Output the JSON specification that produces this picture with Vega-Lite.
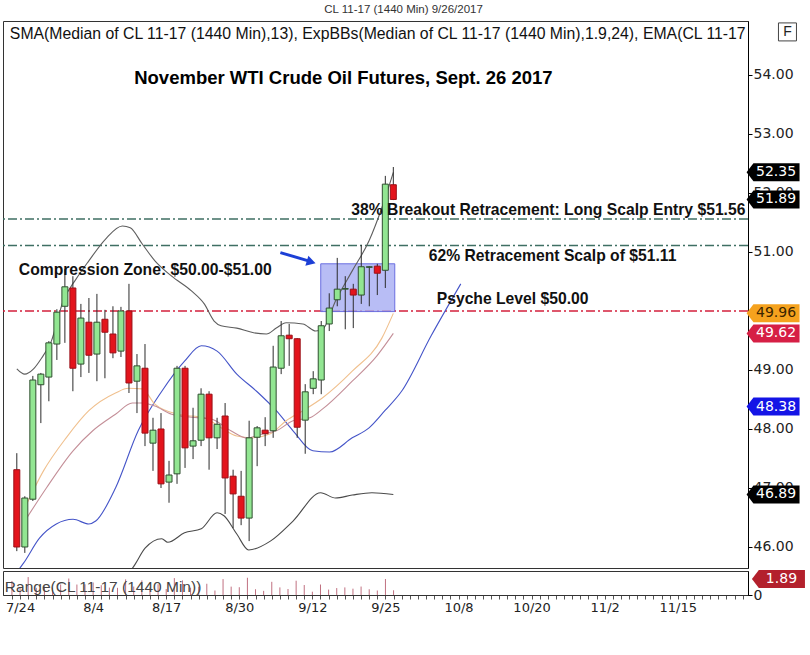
{
  "$schema": "https://vega.github.io/schema/vega-lite/v6.json",
  "padding": {"left": 1, "top": 3, "right": 2, "bottom": 0},
  "background": "white",
  "spacing": 0,
  "title": {"text": "CL 11-17 (1440 Min)  9/26/2017", "fontSize": 11.5, "fontWeight": "normal", "font": "Liberation Sans", "color": "#333", "anchor": "middle", "offset": 5},
  "config": {"view": {"stroke": "#333", "strokeWidth": 1}, "font": "Liberation Sans", "axis": {"grid": false}},
  "datasets": {
    "candles": [
      {"i":0,"date":"7/21","o":47.31,"h":47.59,"l":45.93,"c":46.00,"range":1.66},
      {"i":1,"date":"7/24","o":46.00,"h":46.86,"l":45.90,"c":46.83,"range":0.96},
      {"i":2,"date":"7/25","o":46.81,"h":48.90,"l":46.78,"c":48.83,"range":2.12},
      {"i":3,"date":"7/26","o":48.75,"h":48.95,"l":48.10,"c":48.93,"range":0.85},
      {"i":4,"date":"7/27","o":48.88,"h":49.49,"l":48.47,"c":49.46,"range":1.02},
      {"i":5,"date":"7/28","o":49.44,"h":50.03,"l":49.17,"c":49.98,"range":0.86},
      {"i":6,"date":"7/31","o":50.08,"h":50.71,"l":49.46,"c":50.41,"range":1.25},
      {"i":7,"date":"8/1","o":50.39,"h":50.59,"l":48.64,"c":49.03,"range":1.95},
      {"i":8,"date":"8/2","o":49.10,"h":50.12,"l":48.88,"c":49.88,"range":1.24},
      {"i":9,"date":"8/3","o":49.81,"h":50.22,"l":48.95,"c":49.25,"range":1.27},
      {"i":10,"date":"8/4","o":49.27,"h":50.29,"l":48.81,"c":49.81,"range":1.48},
      {"i":11,"date":"8/7","o":49.86,"h":50.02,"l":48.86,"c":49.64,"range":1.16},
      {"i":12,"date":"8/8","o":49.61,"h":50.08,"l":49.20,"c":49.29,"range":0.88},
      {"i":13,"date":"8/9","o":49.32,"h":50.07,"l":49.22,"c":50.00,"range":0.85},
      {"i":14,"date":"8/10","o":50.00,"h":50.46,"l":48.61,"c":48.78,"range":1.85},
      {"i":15,"date":"8/11","o":48.81,"h":49.27,"l":48.27,"c":49.07,"range":1.00},
      {"i":16,"date":"8/14","o":49.03,"h":49.44,"l":47.71,"c":47.93,"range":1.73},
      {"i":17,"date":"8/15","o":47.76,"h":48.19,"l":47.29,"c":47.98,"range":0.90},
      {"i":18,"date":"8/16","o":48.00,"h":48.27,"l":47.00,"c":47.07,"range":1.27},
      {"i":19,"date":"8/17","o":47.10,"h":47.46,"l":46.75,"c":47.22,"range":0.71},
      {"i":20,"date":"8/18","o":47.24,"h":49.07,"l":47.07,"c":49.03,"range":2.00},
      {"i":21,"date":"8/21","o":49.03,"h":49.07,"l":47.34,"c":47.68,"range":1.73},
      {"i":22,"date":"8/22","o":47.71,"h":48.36,"l":47.49,"c":47.80,"range":0.87},
      {"i":23,"date":"8/23","o":47.81,"h":48.69,"l":47.71,"c":48.59,"range":0.98},
      {"i":24,"date":"8/24","o":48.59,"h":48.64,"l":47.31,"c":47.85,"range":1.33},
      {"i":25,"date":"8/25","o":47.85,"h":48.19,"l":47.66,"c":48.08,"range":0.53},
      {"i":26,"date":"8/28","o":48.22,"h":48.44,"l":46.56,"c":47.17,"range":1.88},
      {"i":27,"date":"8/29","o":47.20,"h":47.31,"l":46.32,"c":46.90,"range":0.99},
      {"i":28,"date":"8/30","o":46.86,"h":47.29,"l":46.37,"c":46.49,"range":0.92},
      {"i":29,"date":"8/31","o":46.49,"h":48.14,"l":46.10,"c":47.85,"range":2.04},
      {"i":30,"date":"9/1","o":47.86,"h":48.05,"l":47.37,"c":48.02,"range":0.68},
      {"i":31,"date":"9/4","o":47.98,"h":48.20,"l":47.71,"c":47.92,"range":0.49},
      {"i":32,"date":"9/5","o":47.97,"h":49.41,"l":47.85,"c":49.05,"range":1.56},
      {"i":33,"date":"9/6","o":49.03,"h":49.83,"l":48.93,"c":49.58,"range":0.90},
      {"i":34,"date":"9/7","o":49.59,"h":49.78,"l":49.07,"c":49.53,"range":0.71},
      {"i":35,"date":"9/8","o":49.53,"h":49.54,"l":47.85,"c":48.03,"range":1.69},
      {"i":36,"date":"9/11","o":48.15,"h":48.76,"l":47.58,"c":48.63,"range":1.18},
      {"i":37,"date":"9/12","o":48.69,"h":48.98,"l":48.59,"c":48.85,"range":0.39},
      {"i":38,"date":"9/13","o":48.83,"h":49.83,"l":48.59,"c":49.75,"range":1.24},
      {"i":39,"date":"9/14","o":49.78,"h":50.30,"l":49.66,"c":50.05,"range":0.64},
      {"i":40,"date":"9/15","o":50.19,"h":50.90,"l":50.08,"c":50.37,"range":0.82},
      {"i":41,"date":"9/18","o":50.37,"h":50.59,"l":49.69,"c":50.38,"range":0.90},
      {"i":42,"date":"9/19","o":50.37,"h":50.46,"l":49.71,"c":50.27,"range":0.75},
      {"i":43,"date":"9/20","o":50.27,"h":51.12,"l":50.12,"c":50.75,"range":1.00},
      {"i":44,"date":"9/21","o":50.74,"h":50.76,"l":50.08,"c":50.75,"range":0.68},
      {"i":45,"date":"9/22","o":50.76,"h":50.80,"l":50.27,"c":50.64,"range":0.53},
      {"i":46,"date":"9/25","o":50.69,"h":52.29,"l":50.39,"c":52.15,"range":1.89},
      {"i":47,"date":"9/26","o":52.14,"h":52.44,"l":51.88,"c":51.89,"range":0.56}
    ],
    "lines": [
      {"s":"upper","i":0,"p":49.02},{"s":"upper","i":0.99,"p":48.93},{"s":"upper","i":2.09,"p":49.02},{"s":"upper","i":3.08,"p":49.20},{"s":"upper","i":4.31,"p":49.49},{"s":"upper","i":5.79,"p":50.17},{"s":"upper","i":7.39,"p":50.54},{"s":"upper","i":8.99,"p":50.85},{"s":"upper","i":11.08,"p":51.22},{"s":"upper","i":13.18,"p":51.44},{"s":"upper","i":14.16,"p":51.41},{"s":"upper","i":15.64,"p":51.14},{"s":"upper","i":17.24,"p":50.85},{"s":"upper","i":19.33,"p":50.59},{"s":"upper","i":21.8,"p":50.34},{"s":"upper","i":23.4,"p":50.12},{"s":"upper","i":24.63,"p":49.83},{"s":"upper","i":25.49,"p":49.75},{"s":"upper","i":27.46,"p":49.71},{"s":"upper","i":29.56,"p":49.63},{"s":"upper","i":31.16,"p":49.61},{"s":"upper","i":32.39,"p":49.71},{"s":"upper","i":33.62,"p":49.80},{"s":"upper","i":35.71,"p":49.78},{"s":"upper","i":37.32,"p":49.66},{"s":"upper","i":38.18,"p":49.69},{"s":"upper","i":39.78,"p":50.17},{"s":"upper","i":41.87,"p":50.68},{"s":"upper","i":43.97,"p":51.19},{"s":"upper","i":45.57,"p":51.75},{"s":"upper","i":47,"p":52.35},
      {"s":"lower","i":13.3,"p":45.42},{"s":"lower","i":14.78,"p":45.71},{"s":"lower","i":16.01,"p":45.98},{"s":"lower","i":18.1,"p":46.14},{"s":"lower","i":18.84,"p":46.08},{"s":"lower","i":20.94,"p":46.24},{"s":"lower","i":23.03,"p":46.31},{"s":"lower","i":25.0,"p":46.58},{"s":"lower","i":25.86,"p":46.53},{"s":"lower","i":27.46,"p":46.22},{"s":"lower","i":28.94,"p":45.95},{"s":"lower","i":31.65,"p":46.10},{"s":"lower","i":34.48,"p":46.44},{"s":"lower","i":37.93,"p":46.92},{"s":"lower","i":39.78,"p":46.83},{"s":"lower","i":41.87,"p":46.88},{"s":"lower","i":44.33,"p":46.92},{"s":"lower","i":47,"p":46.89},
      {"s":"blue","i":0.37,"p":45.64},{"s":"blue","i":0.86,"p":45.73},{"s":"blue","i":2.83,"p":46.15},{"s":"blue","i":4.93,"p":46.39},{"s":"blue","i":7.02,"p":46.47},{"s":"blue","i":8.99,"p":46.39},{"s":"blue","i":9.85,"p":46.44},{"s":"blue","i":12.32,"p":47.0},{"s":"blue","i":15.15,"p":47.97},{"s":"blue","i":18.1,"p":48.64},{"s":"blue","i":20.94,"p":49.15},{"s":"blue","i":23.03,"p":49.41},{"s":"blue","i":25.0,"p":49.32},{"s":"blue","i":27.46,"p":48.93},{"s":"blue","i":29.93,"p":48.64},{"s":"blue","i":32.39,"p":48.31},{"s":"blue","i":34.48,"p":47.97},{"s":"blue","i":36.95,"p":47.63},{"s":"blue","i":39.04,"p":47.61},{"s":"blue","i":41.87,"p":47.85},{"s":"blue","i":43.97,"p":48.02},{"s":"blue","i":45.94,"p":48.31},{"s":"blue","i":48.03,"p":48.64},{"s":"blue","i":51.72,"p":49.58},{"s":"blue","i":55.42,"p":50.46},
      {"s":"sma","i":1.23,"p":46.73},{"s":"sma","i":3.33,"p":47.29},{"s":"sma","i":6.16,"p":47.85},{"s":"sma","i":8.99,"p":48.31},{"s":"sma","i":12.32,"p":48.61},{"s":"sma","i":13.92,"p":48.69},{"s":"sma","i":15.64,"p":48.68},{"s":"sma","i":17.24,"p":48.42},{"s":"sma","i":20.07,"p":48.25},{"s":"sma","i":23.4,"p":48.19},{"s":"sma","i":25.49,"p":48.02},{"s":"sma","i":27.46,"p":47.88},{"s":"sma","i":29.19,"p":47.85},{"s":"sma","i":31.65,"p":47.92},{"s":"sma","i":33.62,"p":48.14},{"s":"sma","i":35.71,"p":48.31},{"s":"sma","i":38.18,"p":48.53},{"s":"sma","i":41.87,"p":48.98},{"s":"sma","i":45.57,"p":49.54},{"s":"sma","i":47,"p":49.96},
      {"s":"ema","i":1.23,"p":46.49},{"s":"ema","i":3.69,"p":47.0},{"s":"ema","i":7.02,"p":47.63},{"s":"ema","i":9.48,"p":47.97},{"s":"ema","i":12.32,"p":48.25},{"s":"ema","i":14.41,"p":48.44},{"s":"ema","i":15.64,"p":48.44},{"s":"ema","i":17.24,"p":48.39},{"s":"ema","i":19.33,"p":48.25},{"s":"ema","i":21.8,"p":48.20},{"s":"ema","i":24.26,"p":48.17},{"s":"ema","i":26.72,"p":47.97},{"s":"ema","i":28.69,"p":47.85},{"s":"ema","i":30.79,"p":47.92},{"s":"ema","i":32.39,"p":47.97},{"s":"ema","i":34.48,"p":48.14},{"s":"ema","i":36.58,"p":48.19},{"s":"ema","i":38.18,"p":48.34},{"s":"ema","i":41.87,"p":48.81},{"s":"ema","i":44.95,"p":49.24},{"s":"ema","i":47,"p":49.62}
    ],
    "hlines": [{"p":51.56,"kind":"teal"},{"p":51.11,"kind":"teal"},{"p":50.0,"kind":"red"}],
    "box": [{"i1":37.94,"i2":47.18,"p1":49.99,"p2":50.80}],
    "arrow": [{"i1":32.9,"p1":50.99,"i2":36.4,"p2":50.85,"ih":36.75,"ph":50.83}],
    "title": [{"t":"November WTI Crude Oil Futures, Sept. 26 2017","i":40.77,"p":53.95}],
    "textsLeft": [{"t":"Compression Zone: $50.00-$51.00","i":0.25,"p":50.69},{"t":"38% Breakout Retracement: Long Scalp Entry $51.56","i":41.76,"p":51.71}],
    "textsCenter": [{"t":"62% Retracement Scalp of $51.11","i":66.88,"p":50.94},{"t":"Psyche Level $50.00","i":61.89,"p":50.21}],
    "info": [{"t":"SMA(Median of CL 11-17 (1440 Min),13), ExpBBs(Median of CL 11-17 (1440 Min),1.9,24), EMA(CL 11-17","i":-0.87,"p":54.69}],
    "flags": [{"s":"upper","v":52.35},{"s":"close","v":51.89},{"s":"sma","v":49.96},{"s":"ema","v":49.62},{"s":"mid","v":48.38},{"s":"lower","v":46.89}],
    "fbox": [{"t":"F","i":96.2,"p":54.73}],
    "rangePanel": [{"kind":"label","t":"Range(CL 11-17 (1440 Min))","i":-0.87,"v":0.95},{"kind":"flag","t":"1.89","i":94.4,"v":1.89}]
  },
  "vconcat": [
    {
      "width": 745,
      "height": 547,
      "layer": [
        {
          "data": {"name": "hlines"},
          "mark": {"type": "rule", "strokeWidth": 1.6, "strokeDash": [9, 3, 2, 3]},
          "encoding": {
            "y": {"field": "p", "type": "quantitative", "title": null,
                  "scale": {"domain": [45.644, 54.915], "nice": false, "zero": false},
                  "axis": {"orient": "right", "values": [46, 47, 48, 49, 51, 52, 53, 54], "format": ".2f", "labelFont": "DejaVu Sans", "labelFontSize": 14, "labelColor": "#222", "domainColor": "#000", "tickColor": "#000", "tickSize": 4, "labelPadding": 1}},
            "stroke": {"field": "kind", "type": "nominal", "scale": {"domain": ["teal", "red"], "range": ["#3f6f63", "#d4203c"]}, "legend": null}
          }
        },
        {
          "data": {"name": "box"},
          "mark": {"type": "rect", "fill": "#a6acf2", "fillOpacity": 0.8, "stroke": "#6b6fe0", "strokeWidth": 1},
          "encoding": {
            "x": {"field": "i1", "type": "quantitative", "scale": {"domain": [-1.1, 90.65], "nice": false, "zero": false}, "axis": null},
            "x2": {"field": "i2"},
            "y": {"field": "p1", "type": "quantitative", "title": null},
            "y2": {"field": "p2"}
          }
        },
        {
          "data": {"name": "lines"},
          "mark": {"type": "line", "strokeWidth": 1.1, "clip": true, "interpolate": "monotone"},
          "encoding": {
            "x": {"field": "i", "type": "quantitative", "axis": null},
            "y": {"field": "p", "type": "quantitative", "title": null},
            "color": {"field": "s", "type": "nominal", "scale": {"domain": ["upper", "lower", "blue", "sma", "ema"], "range": ["#5e5e5e", "#4a4a4a", "#4454c8", "#f0c08e", "#c48f98"]}, "legend": null}
          }
        },
        {
          "data": {"name": "candles"},
          "mark": {"type": "rule", "color": "#2b2b2b", "strokeWidth": 1},
          "encoding": {
            "x": {"field": "i", "type": "quantitative", "axis": null},
            "y": {"field": "l", "type": "quantitative", "title": null},
            "y2": {"field": "h"}
          }
        },
        {
          "data": {"name": "candles"},
          "mark": {"type": "bar", "size": 6, "strokeWidth": 1},
          "encoding": {
            "x": {"field": "i", "type": "quantitative", "axis": null},
            "y": {"field": "o", "type": "quantitative", "title": null},
            "y2": {"field": "c"},
            "fill": {"condition": {"test": "datum.c >= datum.o", "value": "#92e692"}, "value": "#e3141c"},
            "stroke": {"condition": {"test": "datum.c >= datum.o", "value": "#2f4f2f"}, "value": "#9a1018"}
          }
        },
        {
          "data": {"name": "arrow"},
          "mark": {"type": "rule", "color": "#1c3fd6", "strokeWidth": 3},
          "encoding": {
            "x": {"field": "i1", "type": "quantitative", "axis": null},
            "x2": {"field": "i2"},
            "y": {"field": "p1", "type": "quantitative", "title": null},
            "y2": {"field": "p2"}
          }
        },
        {
          "data": {"name": "arrow"},
          "mark": {"type": "point", "shape": "triangle-right", "angle": 17, "size": 110, "filled": true, "color": "#1c3fd6", "opacity": 1},
          "encoding": {
            "x": {"field": "ih", "type": "quantitative", "axis": null},
            "y": {"field": "ph", "type": "quantitative", "title": null}
          }
        },
        {
          "data": {"name": "title"},
          "mark": {"type": "text", "align": "center", "baseline": "middle", "font": "Liberation Sans", "fontWeight": "bold", "fontSize": 18.5, "color": "#000"},
          "encoding": {
            "x": {"field": "i", "type": "quantitative", "axis": null},
            "y": {"field": "p", "type": "quantitative", "title": null},
            "text": {"field": "t"}
          }
        },
        {
          "data": {"name": "textsLeft"},
          "mark": {"type": "text", "align": "left", "baseline": "middle", "font": "Liberation Sans", "fontWeight": "bold", "fontSize": 15.7, "color": "#111"},
          "encoding": {
            "x": {"field": "i", "type": "quantitative", "axis": null},
            "y": {"field": "p", "type": "quantitative", "title": null},
            "text": {"field": "t"}
          }
        },
        {
          "data": {"name": "textsCenter"},
          "mark": {"type": "text", "align": "center", "baseline": "middle", "font": "Liberation Sans", "fontWeight": "bold", "fontSize": 15.7, "color": "#111"},
          "encoding": {
            "x": {"field": "i", "type": "quantitative", "axis": null},
            "y": {"field": "p", "type": "quantitative", "title": null},
            "text": {"field": "t"}
          }
        },
        {
          "data": {"name": "info"},
          "mark": {"type": "text", "align": "left", "baseline": "middle", "font": "Liberation Sans", "fontSize": 15.8, "color": "#111"},
          "encoding": {
            "x": {"field": "i", "type": "quantitative", "axis": null},
            "y": {"field": "p", "type": "quantitative", "title": null},
            "text": {"field": "t"}
          }
        },
        {
          "data": {"name": "flags"},
          "mark": {"type": "point", "shape": "M -1 0 L -0.74 -0.34 L 1 -0.34 L 1 0.34 L -0.74 0.34 Z", "size": 2809, "filled": true, "opacity": 1, "strokeWidth": 0},
          "encoding": {
            "x": {"datum": 94.4, "type": "quantitative", "axis": null},
            "y": {"field": "v", "type": "quantitative", "title": null},
            "fill": {"field": "s", "type": "nominal", "scale": {"domain": ["upper", "close", "sma", "ema", "mid", "lower"], "range": ["#000000", "#000000", "#f5a21e", "#d61f45", "#1414e6", "#000000"]}, "legend": null}
          }
        },
        {
          "data": {"name": "flags"},
          "mark": {"type": "text", "align": "center", "baseline": "middle", "dx": 3, "font": "DejaVu Sans", "fontSize": 14},
          "encoding": {
            "x": {"datum": 94.4, "type": "quantitative", "axis": null},
            "y": {"field": "v", "type": "quantitative", "title": null},
            "text": {"field": "v", "type": "quantitative", "format": ".2f"},
            "color": {"condition": {"test": "datum.s === 'sma'", "value": "#3b2500"}, "value": "#ffffff"}
          }
        },
        {
          "data": {"name": "fbox"},
          "mark": {"type": "point", "shape": "square", "size": 324, "filled": false, "stroke": "#444", "strokeWidth": 1, "opacity": 1},
          "encoding": {
            "x": {"field": "i", "type": "quantitative", "axis": null},
            "y": {"field": "p", "type": "quantitative", "title": null}
          }
        },
        {
          "data": {"name": "fbox"},
          "mark": {"type": "text", "align": "center", "baseline": "middle", "font": "Liberation Sans", "fontSize": 14, "color": "#222"},
          "encoding": {
            "x": {"field": "i", "type": "quantitative", "axis": null},
            "y": {"field": "p", "type": "quantitative", "title": null},
            "text": {"field": "t"}
          }
        }
      ]
    },
    {
      "width": 745,
      "height": 24,
      "encoding": {
        "x": {"field": "i", "type": "quantitative", "title": null,
              "scale": {"domain": [-1.1, 90.65], "nice": false, "zero": false},
              "axis": {"values": [0,1,2,3,4,5,6,7,8,9,10,11,12,13,14,15,16,17,18,19,20,21,22,23,24,25,26,27,28,29,30,31,32,33,34,35,36,37,38,39,40,41,42,43,44,45,46,47,48,49,50,51,52,53,54,55,56,57,58,59,60,61,62,63,64,65,66,67,68,69,70,71,72,73,74,75,76,77,78,79,80,81,82,83,84,85,86,87,88,89,90],
                       "labelExpr": "indexof([1,10,19,28,37,46,55,64,73,82], datum.value) >= 0 ? ['7/24','8/4','8/17','8/30','9/12','9/25','10/8','10/20','11/2','11/15'][indexof([1,10,19,28,37,46,55,64,73,82], datum.value)] : ''",
                       "labelOverlap": false, "labelBound": false, "labelFlush": false, "labelFont": "DejaVu Sans", "labelFontSize": 13, "labelColor": "#222", "tickSize": 4, "tickColor": "#555", "domainColor": "#333", "labelPadding": 2}}
      },
      "layer": [
        {
          "data": {"name": "candles"},
          "mark": {"type": "rule", "color": "#c07080", "strokeWidth": 1},
          "encoding": {
            "y": {"field": "range", "type": "quantitative", "title": null,
                  "scale": {"domain": [0, 2.84], "nice": false, "zero": true},
                  "axis": {"orient": "right", "values": [0], "format": "d", "labelFont": "DejaVu Sans", "labelFontSize": 14, "labelColor": "#222", "domainColor": "#000", "tickColor": "#000", "tickSize": 4, "labelPadding": 1}},
            "y2": {"datum": 0}
          }
        },
        {
          "data": {"name": "rangePanel"},
          "transform": [{"filter": "datum.kind === 'label'"}],
          "mark": {"type": "text", "align": "left", "baseline": "middle", "font": "Liberation Sans", "fontSize": 15.5, "color": "#444"},
          "encoding": {
            "y": {"field": "v", "type": "quantitative", "title": null},
            "text": {"field": "t"}
          }
        },
        {
          "data": {"name": "rangePanel"},
          "transform": [{"filter": "datum.kind === 'flag'"}],
          "mark": {"type": "point", "shape": "M -1 0 L -0.74 -0.34 L 1 -0.34 L 1 0.34 L -0.74 0.34 Z", "size": 2809, "filled": true, "opacity": 1, "strokeWidth": 0, "fill": "#b3202c"},
          "encoding": {
            "y": {"field": "v", "type": "quantitative", "title": null}
          }
        },
        {
          "data": {"name": "rangePanel"},
          "transform": [{"filter": "datum.kind === 'flag'"}],
          "mark": {"type": "text", "align": "center", "baseline": "middle", "dx": 3, "font": "DejaVu Sans", "fontSize": 14, "color": "#ffffff"},
          "encoding": {
            "y": {"field": "v", "type": "quantitative", "title": null},
            "text": {"field": "t"}
          }
        }
      ]
    }
  ]
}
